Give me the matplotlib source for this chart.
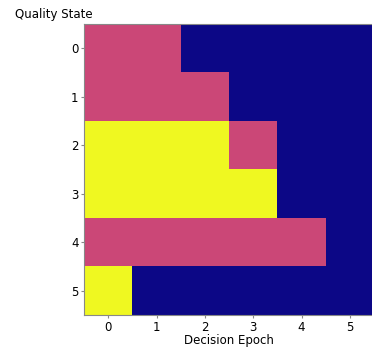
import numpy as np
import matplotlib
matplotlib.use("Agg")
import matplotlib.pyplot as plt

# policy per quality state (rows) and decision epoch (columns)
# 0 = idle, 0.5 = partial, 1 = full
epochs = [0, 1, 2, 3, 4, 5]
states = [0, 1, 2, 3, 4, 5]
state_0 = [0.5, 0.5, 0, 0, 0, 0]
state_1 = [0.5, 0.5, 0.5, 0, 0, 0]
state_2 = [1, 1, 1, 0.5, 0, 0]
state_3 = [1, 1, 1, 1, 0, 0]
state_4 = [0.5, 0.5, 0.5, 0.5, 0.5, 0]
state_5 = [1, 0, 0, 0, 0, 0]

policy = np.array([state_0, state_1, state_2, state_3, state_4, state_5])

fig = plt.figure(figsize=(3.72, 3.49), dpi=100)
ax = fig.add_axes([84 / 372, 34 / 349, 290 / 372, 291 / 349])
ax.imshow(policy, cmap="plasma", vmin=0, vmax=1, aspect="auto")

ax.set_xticks(epochs)
ax.set_yticks(states)
ax.tick_params(labelsize=8.5, length=2.5, pad=1.5, color="#888888")
for s in ax.spines.values():
    s.set_color("#888888")
ax.set_xlabel("Decision Epoch", fontsize=8.5, labelpad=0)
fig.text(15 / 372, 1 - 18 / 349, "Quality State", fontsize=8.5)

fig.savefig("out.png", dpi=100)
